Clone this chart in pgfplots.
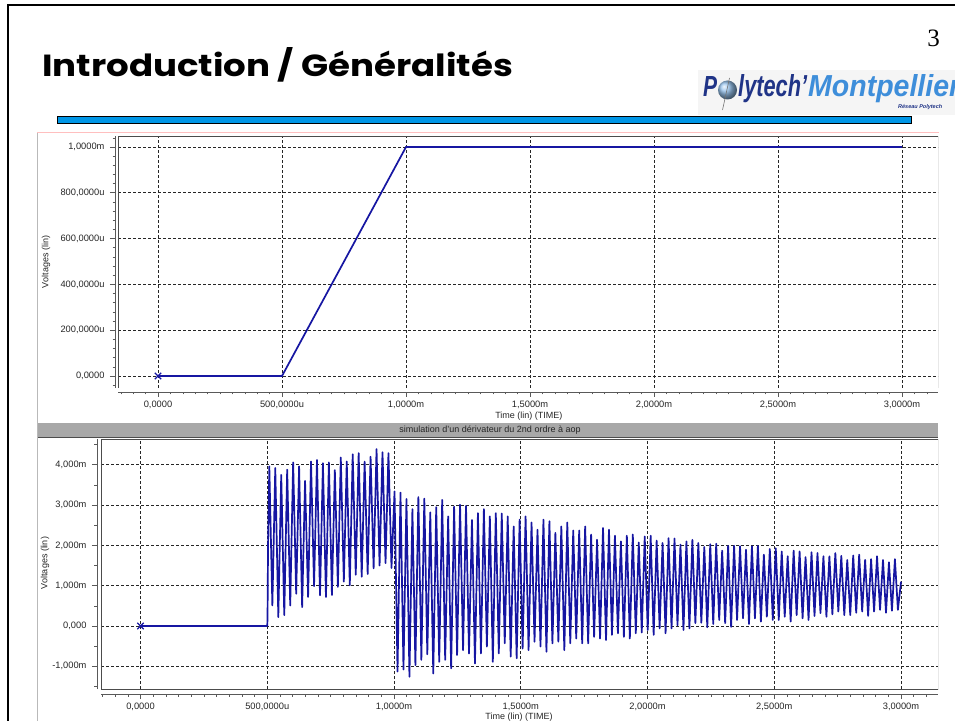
\documentclass[border=0pt]{standalone}
\usepackage{fontspec}
\setmainfont{Liberation Sans}
\newfontfamily\titlefont{Poppins}
\newfontfamily\numfont{Liberation Serif}
\usepackage{pgfplots}
\pgfplotsset{compat=1.18}

\definecolor{trace}{RGB}{22,22,162}
\definecolor{barblue}{RGB}{0,150,230}
\definecolor{logodark}{RGB}{32,52,135}
\definecolor{logolight}{RGB}{62,142,218}
\definecolor{winbar}{RGB}{168,168,168}

% common look of the simulator plot windows
\pgfplotsset{spice/.style={
  scale only axis, anchor=south west,
  axis x line*=bottom, axis y line*=left,
  axis line style={black!65, line width=0.8pt},
  tick align=outside, major tick length=5pt, minor tick length=2.5pt,
  tick style={black!65, line width=0.6pt},
  grid=major,
  major grid style={black!85, line width=0.65pt, dash pattern=on 3pt off 2pt},
  ticklabel style={font=\fontsize{9.3}{10}\selectfont, text=black!85},
  yticklabel style={xshift=-2pt},
  label style={font=\fontsize{9}{10}\selectfont, text=black!85},
  xtick={0,0.5,1,1.5,2,2.5,3},
  xticklabels={{0,0000},{500,0000u},{1,0000m},{1,5000m},{2,0000m},{2,5000m},{3,0000m}},
  minor xtick={-0.15,-0.1,...,3.15},
  xlabel={Time (lin) (TIME)}, ylabel={Voltages (lin)},
  /pgf/number format/assume math mode=true,
}}

\begin{document}
\begin{tikzpicture}[x=1pt,y=1pt]
\path[use as bounding box] (0,0) rectangle (955,720);
\clip (0,0) rectangle (955,720);
\fill[white] (0,0) rectangle (955,720);

% slide frame
\draw[line width=2.2pt] (8,-5) -- (8,715) -- (960,715);

% slide title and page number
\node[anchor=base west, inner sep=0pt] at (42,643)
  {\resizebox{471pt}{29pt}{\titlefont\bfseries Introduction / Généralités}};
\node[anchor=base east, inner sep=0pt] at (940,673)
  {\numfont\fontsize{25}{25}\selectfont 3};

% school logo
\fill[black!4] (698,605) rectangle (960,650);
\node[anchor=base west, inner sep=0pt] at (703,623)
  {\resizebox{14pt}{20pt}{\color{logodark}\bfseries\itshape P}};
\shade[ball color=logolight!55] (727.5,630) circle (9.5);
\draw[black!55, line width=0.6pt] (729.5,642) -- (722.5,610);
\node[anchor=base west, inner sep=0pt] at (738,623)
  {\resizebox{69pt}{22pt}{\color{logodark}\bfseries\itshape lytech’}};
\node[anchor=base west, inner sep=0pt] at (808,623)
  {\resizebox{152pt}{22pt}{\color{logolight}\bfseries\itshape Montpellier}};
\node[anchor=base west, inner sep=0pt] at (898,611)
  {\fontsize{5.5}{6}\selectfont\bfseries\itshape\color{logodark}Réseau Polytech};

% title underline bar
\draw[black, line width=0.9pt, fill=barblue] (57,597) rectangle (911,604);

% simulator window
\draw[gray!55, line width=0.8pt] (37.5,-2) -- (37.5,587);
\draw[red!25, line width=0.8pt] (37,587.5) -- (939,587.5);
\fill[winbar] (38,283) rectangle (938,297);
\draw[black!70, line width=0.8pt] (38,282.6) -- (938,282.6);
\node[font=\fontsize{9}{10}\selectfont, text=black!85] at (490,290)
  {simulation d'un dérivateur du 2nd ordre à aop};

% input voltage
\begin{axis}[spice, at={(118pt,332pt)}, width=820pt, height=252pt,
  xmin=-0.1613, xmax=3.145, ymin=-0.0524, ymax=1.048,
  axis x line shift=4pt, axis y line shift=3pt,
  ytick={0,0.2,0.4,0.6,0.8,1},
  yticklabels={{0,0000},{200,0000u},{400,0000u},{600,0000u},{800,0000u},{1,0000m}},
  minor ytick={-0.04,0,...,1.04},
  xlabel style={at={(axis description cs:0.501,-0.111)}, anchor=center},
  ylabel style={at={(axis description cs:-0.0878,0.5)}, anchor=center},
]
\addplot[trace, line width=1.7pt] coordinates {(0,0) (0.5,0) (1.0,1.0) (3.0,1.0)};
\addplot[only marks, mark=x, mark size=4.5pt, trace, line width=1.3pt] coordinates {(0,0)};
\draw[black!70, line width=0.8pt] (rel axis cs:0,0) rectangle (rel axis cs:1,1);
\draw[black!45, line width=0.8pt] ([yshift=-1.2pt]rel axis cs:0,0) -- ([yshift=-1.2pt]rel axis cs:1,0);
\end{axis}

% output of the second-order differentiator
\begin{axis}[spice, at={(101pt,31pt)}, width=837pt, height=250pt,
  xmin=-0.156, xmax=3.146, ymin=-1.563, ymax=4.64,
  axis x line shift=5pt, axis y line shift=4pt,
  ytick={-1,0,1,2,3,4},
  yticklabels={{-1,000m},{0,000},{1,000m},{2,000m},{3,000m},{4,000m}},
  minor ytick={-1.5,-1,...,4.5},
  xlabel style={at={(axis description cs:0.4994,-0.112)}, anchor=center},
  ylabel style={at={(axis description cs:-0.0669,0.504)}, anchor=center},
]
\addplot[trace, line width=1.7pt, line join=round] coordinates {
(0,0) (0.5,0) (0.501,0.25) (0.503,2.0)
(0.5080,3.96) (0.5200,0.51) (0.5315,3.92) (0.5435,0.22) (0.5550,3.75) (0.5670,0.27)
(0.5785,3.88) (0.5905,0.51) (0.6020,4.06) (0.6140,0.80) (0.6255,3.96) (0.6375,0.47)
(0.6490,3.60) (0.6610,0.72) (0.6725,4.08) (0.6845,0.99) (0.6960,4.12) (0.7080,0.76)
(0.7195,4.04) (0.7315,0.72) (0.7430,4.06) (0.7550,0.77) (0.7665,3.87) (0.7785,0.97)
(0.7900,4.18) (0.8020,1.10) (0.8135,4.08) (0.8255,1.01) (0.8370,4.26) (0.8490,1.27)
(0.8605,4.29) (0.8725,1.22) (0.8840,4.08) (0.8960,1.29) (0.9075,4.20) (0.9195,1.43)
(0.9310,4.39) (0.9430,1.50) (0.9545,4.31) (0.9665,1.56) (0.9780,4.29) (0.9900,1.44)
(1.0020,3.34) (1.0138,-1.13) (1.0255,3.31) (1.0373,-1.08) (1.0490,3.15) (1.0608,-1.26)
(1.0725,2.90) (1.0843,-0.97) (1.0960,3.20) (1.1078,-0.84) (1.1195,3.16) (1.1313,-0.70)
(1.1430,2.82) (1.1548,-1.18) (1.1665,2.95) (1.1783,-0.89) (1.1900,3.13) (1.2018,-0.84)
(1.2135,2.72) (1.2253,-1.05) (1.2370,2.96) (1.2488,-0.72) (1.2605,3.01) (1.2723,-0.60)
(1.2840,2.98) (1.2958,-0.68) (1.3075,2.63) (1.3193,-0.93) (1.3310,2.80) (1.3428,-0.68)
(1.3545,2.90) (1.3663,-0.51) (1.3780,2.72) (1.3898,-0.89) (1.4015,2.80) (1.4133,-0.68)
(1.4250,2.79) (1.4368,-0.43) (1.4485,2.72) (1.4603,-0.76) (1.4720,2.47) (1.4838,-0.80)
(1.4955,2.64) (1.5073,-0.56) (1.5190,2.72) (1.5308,-0.60) (1.5425,2.57) (1.5543,-0.39)
(1.5660,2.39) (1.5778,-0.51) (1.5895,2.64) (1.6013,-0.64) (1.6130,2.60) (1.6248,-0.43)
(1.6365,2.31) (1.6483,-0.39) (1.6600,2.47) (1.6718,-0.60) (1.6835,2.57) (1.6953,-0.43)
(1.7070,2.37) (1.7188,-0.31) (1.7305,2.37) (1.7423,-0.43) (1.7540,2.47) (1.7658,-0.43)
(1.7775,2.27) (1.7893,-0.27) (1.8010,2.14) (1.8128,-0.31) (1.8245,2.43) (1.8363,-0.35)
(1.8480,2.39) (1.8598,-0.22) (1.8715,2.24) (1.8833,-0.18) (1.8950,2.10) (1.9068,-0.27)
(1.9185,2.24) (1.9303,-0.31) (1.9420,2.27) (1.9538,-0.18) (1.9655,2.07) (1.9773,-0.16)
(1.9890,2.22) (2.0008,-0.10) (2.0125,2.24) (2.0243,-0.22) (2.0360,2.12) (2.0478,-0.06)
(2.0595,2.06) (2.0713,-0.18) (2.0830,2.18) (2.0948,-0.06) (2.1065,2.17) (2.1183,0.02)
(2.1300,2.02) (2.1418,-0.10) (2.1535,2.10) (2.1653,-0.06) (2.1770,2.14) (2.1888,0.07)
(2.2005,2.06) (2.2123,0.08) (2.2240,1.96) (2.2358,-0.03) (2.2475,2.03) (2.2593,0.05)
(2.2710,2.04) (2.2828,0.15) (2.2945,1.87) (2.3063,0.07) (2.3180,1.99) (2.3298,-0.02)
(2.3415,1.99) (2.3533,0.15) (2.3650,1.98) (2.3768,0.19) (2.3885,1.89) (2.4003,0.05)
(2.4120,1.98) (2.4238,0.19) (2.4355,1.99) (2.4473,0.11) (2.4590,1.77) (2.4708,0.23)
(2.4825,1.91) (2.4943,0.15) (2.5060,1.93) (2.5178,0.15) (2.5295,1.85) (2.5413,0.23)
(2.5530,1.73) (2.5648,0.11) (2.5765,1.87) (2.5883,0.27) (2.6000,1.85) (2.6118,0.19)
(2.6235,1.71) (2.6353,0.15) (2.6470,1.83) (2.6588,0.25) (2.6705,1.81) (2.6823,0.32)
(2.6940,1.73) (2.7058,0.23) (2.7175,1.73) (2.7293,0.29) (2.7410,1.81) (2.7528,0.36)
(2.7645,1.74) (2.7763,0.27) (2.7880,1.64) (2.7998,0.27) (2.8115,1.75) (2.8233,0.33)
(2.8350,1.77) (2.8468,0.36) (2.8585,1.64) (2.8703,0.25) (2.8820,1.66) (2.8938,0.36)
(2.9055,1.73) (2.9173,0.40) (2.9290,1.64) (2.9408,0.33) (2.9525,1.58) (2.9643,0.38)
(2.9760,1.66) (2.9878,0.40) (3.0000,1.10)
};
\addplot[only marks, mark=x, mark size=4.5pt, trace, line width=1.3pt] coordinates {(0,0)};
\draw[black!70, line width=0.8pt] (rel axis cs:0,0) rectangle (rel axis cs:1,1);
\draw[black!45, line width=0.8pt] ([yshift=-1.2pt]rel axis cs:0,0) -- ([yshift=-1.2pt]rel axis cs:1,0);
\end{axis}
\end{tikzpicture}
\end{document}
